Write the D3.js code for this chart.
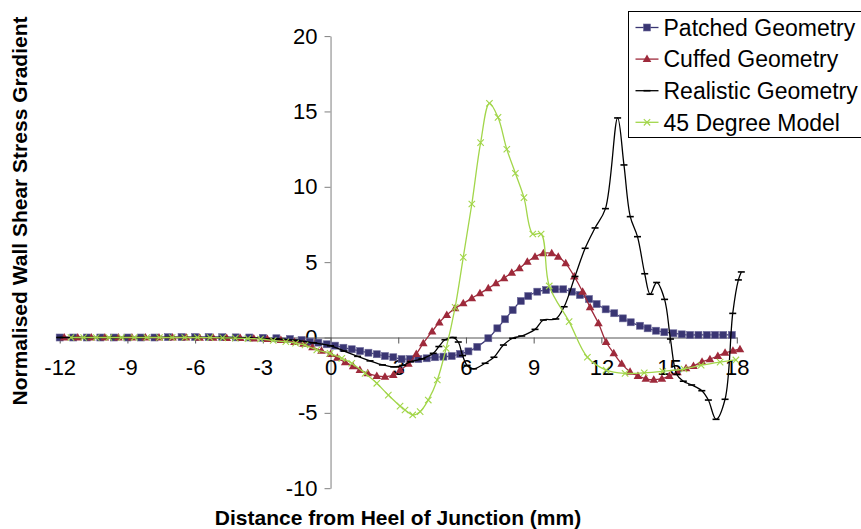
<!DOCTYPE html>
<html lang="en">
<head>
<meta charset="utf-8">
<title>Normalised Wall Shear Stress Gradient</title>
<script src="https://cdn.jsdelivr.net/npm/d3@7"></script>
<style>
  body { margin: 0; background: #fff; }
  text { font-family: "Liberation Sans", Arial, sans-serif; fill: #000; }
  .axis text { font-size: 22px; }
  .label { font-size: 21px; font-weight: bold; }
  .legend_labels { font-size: 23px; }
</style>
</head>
<body>
<script>
// size of the picture
var w = 861, h = 529;

// axis ticks
var xTicks = [-12, -9, -6, -3, 0, 3, 6, 9, 12, 15, 18];
var yTicks = [-10, -5, 0, 5, 10, 15, 20];

var seriesNames = ["Patched Geometry", "Cuffed Geometry", "Realistic Geometry", "45 Degree Model"];

// [distance (mm), normalised WSS gradient]
var patched = [[-12,0],[-11.4,0],[-10.8,0],[-10.2,0],[-9.6,0],[-9.0,0],[-8.4,0],[-7.8,0],[-7.2,0.02],[-6.6,0.03],
  [-6.0,0.03],[-5.4,0.03],[-4.8,0.02],[-4.2,0.01],[-3.6,0],[-3.0,-0.02],[-2.4,-0.05],[-1.8,-0.1],[-1.28,-0.17],
  [-0.91,-0.28],[-0.54,-0.34],[-0.17,-0.45],[0.2,-0.54],[0.57,-0.68],[0.94,-0.78],[1.31,-0.9],[1.68,-1.01],
  [2.05,-1.11],[2.41,-1.23],[2.78,-1.31],[3.15,-1.43],[3.52,-1.43],[3.89,-1.43],[4.26,-1.38],[4.63,-1.31],
  [5.0,-1.27],[5.37,-1.23],[5.74,-1.09],[6.11,-0.92],[6.5,-0.62],[6.99,-0.05],[7.39,0.61],[7.73,1.21],[8.07,1.82],
  [8.43,2.42],[8.76,2.75],[9.16,3.04],[9.55,3.15],[9.95,3.2],[10.31,3.2],[10.69,3.04],[11.05,2.82],[11.45,2.55],
  [11.79,2.22],[12.19,1.87],[12.57,1.61],[12.95,1.27],[13.3,1.01],[13.71,0.78],[14.05,0.61],[14.42,0.45],
  [14.79,0.35],[15.19,0.28],[15.56,0.21],[15.93,0.17],[16.3,0.17],[16.67,0.17],[17.04,0.17],[17.4,0.17],[17.78,0.17]];

var cuffed = [[-11.8,0],[-11.2,0],[-10.6,0],[-10.0,0],[-9.4,0],[-8.8,0],[-8.2,0],[-7.6,0],[-7.0,0],[-6.4,0],
  [-5.8,-0.01],[-5.2,-0.02],[-4.6,-0.03],[-4.0,-0.04],[-3.4,-0.06],[-2.8,-0.1],[-2.2,-0.17],[-1.6,-0.3],[-1.2,-0.42],
  [-0.8,-0.65],[-0.4,-0.88],[0.0,-1.1],[0.3,-1.35],[0.65,-1.65],[1.0,-1.9],[1.3,-2.15],[1.65,-2.38],[2.05,-2.55],
  [2.41,-2.6],[2.78,-2.49],[3.08,-2.16],[3.45,-1.75],[3.8,-1.1],[4.11,-0.38],[4.5,0.4],[4.82,1.0],[5.15,1.49],
  [5.52,1.94],[5.88,2.27],[6.26,2.6],[6.62,2.93],[6.99,3.26],[7.33,3.6],[7.69,3.93],[8.03,4.3],[8.37,4.59],
  [8.72,5.03],[9.06,5.36],[9.43,5.59],[9.8,5.59],[10.09,5.36],[10.42,4.92],[10.8,4.05],[11.17,3.04],[11.5,2.0],
  [11.87,0.94],[12.21,-0.3],[12.55,-1.05],[12.9,-1.75],[13.27,-2.27],[13.62,-2.55],[13.97,-2.74],[14.32,-2.8],
  [14.68,-2.73],[15.01,-2.55],[15.37,-2.3],[15.75,-2.04],[16.08,-1.89],[16.46,-1.61],[16.81,-1.44],[17.16,-1.22],
  [17.48,-1.02],[17.83,-0.88],[18.14,-0.78]];

var realistic = [[-12,0],[-10.8,0],[-9.6,0],[-8.4,0],[-7.2,0.01],[-6.0,0.01],[-4.8,0],[-3.6,-0.03],[-2.4,-0.1],
  [-1.5,-0.2],[-0.75,-0.35],[0,-0.55],[0.6,-0.9],[1.2,-1.25],[1.75,-1.55],[2.3,-1.82],[2.8,-1.95],[3.2,-1.85],
  [3.55,-1.6],[4.05,-1.42],[4.55,-1.05],[4.8,-0.6],[5.07,-0.15],[5.44,0.0],[5.66,-0.3],[5.85,-1.2],[6.05,-1.85],
  [6.33,-2.08],[6.85,-1.71],[7.24,-1.31],[7.66,-0.5],[8.07,-0.05],[8.47,0.1],[9.06,0.54],[9.43,1.16],[9.98,1.23],
  [10.35,2.04],[10.83,4.05],[11.28,5.92],[11.72,7.27],[12.18,8.55],[12.72,14.57],[13.0,11.45],[13.28,8.02],
  [13.6,6.69],[13.92,4.23],[14.16,2.87],[14.45,3.65],[14.8,2.53],[15.06,-0.1],[15.34,-2.45],[15.63,-2.9],
  [16.0,-3.15],[16.45,-3.53],[16.74,-4.15],[17.08,-5.43],[17.48,-4.1],[17.82,1.6],[18.07,3.82],[18.2,4.35]];

var deg45 = [[-11.5,0],[-10.94,0],[-10.38,0],[-9.82,0],[-9.26,0],[-8.7,0],[-8.14,0],[-7.58,0],[-7.02,0],[-6.46,0],
  [-5.9,0],[-5.34,-0.01],[-4.78,-0.02],[-4.22,-0.04],[-3.66,-0.07],[-3.1,-0.1],[-2.54,-0.2],[-1.98,-0.28],
  [-1.55,-0.38],[-1.13,-0.5],[-0.61,-0.83],[-0.02,-1.05],[0.5,-1.38],[0.94,-1.71],[1.53,-2.38],[2.05,-3.04],
  [2.56,-3.82],[3.08,-4.55],[3.3,-4.81],[3.64,-5.14],[3.97,-4.92],[4.33,-4.15],[4.73,-2.82],[5.12,-0.72],
  [5.52,2.0],[5.88,5.32],[6.26,8.86],[6.65,12.93],[7.04,15.54],[7.42,14.61],[7.81,12.49],[8.19,10.9],[8.57,9.28],
  [8.96,6.87],[9.33,6.87],[9.69,3.42],[10.57,1.05],[11.38,-1.31],[12.21,-2.16],[13.05,-2.38],[13.9,-2.34],
  [14.72,-2.24],[15.66,-2.09],[16.42,-1.84],[17.26,-1.63],[17.96,-1.49]];

var colors = {"Patched Geometry": "#3a3673", "Cuffed Geometry": "#9e2a3b",
              "Realistic Geometry": "#000000", "45 Degree Model": "#a2d64a"};
var markers = {"Patched Geometry": "square", "Cuffed Geometry": "triangle",
               "Realistic Geometry": "dash", "45 Degree Model": "cross"};
var seriesData = [patched, cuffed, realistic, deg45];

var xScale = d3.scaleLinear().domain([-12, 18]).range([59.7, 736.8]);
var yScale = d3.scaleLinear().domain([-10, 20]).range([488.2, 36.1]);

var svg = d3.select("body").append("svg")
  .attr("width", w).attr("height", h);

// plain hyphen for negatives, like the original
var fmt = function(d) { return String(d); };

// ---------- axes ----------
var yAxis = d3.axisLeft(yScale).tickValues(yTicks).tickFormat(fmt)
  .tickSize(6).tickSizeOuter(0).tickPadding(7);
var gy = svg.append("g").attr("class", "axis")
  .attr("transform", "translate(" + xScale(0) + ",0)")
  .call(yAxis);
gy.selectAll("path, line").attr("stroke", "#7f7f7f");

var xAxis = d3.axisBottom(xScale).tickValues(xTicks).tickFormat(fmt)
  .tickSize(6).tickSizeOuter(0).tickPadding(16);
var gx = svg.append("g").attr("class", "axis")
  .attr("transform", "translate(0," + yScale(0) + ")")
  .call(xAxis);
gx.selectAll("path, line").attr("stroke", "#555");

svg.selectAll(".axis text").attr("font-family", null).attr("font-size", null);

// axis titles
svg.append("text").attr("class", "label")
  .attr("x", 398).attr("y", 525)
  .attr("text-anchor", "middle")
  .text("Distance from Heel of Junction (mm)");

svg.append("text").attr("class", "label")
  .attr("transform", "translate(27,211) rotate(-90)")
  .attr("text-anchor", "middle")
  .text("Normalised Wall Shear Stress Gradient");

// ---------- series ----------
var line = d3.line()
  .x(function(d) { return xScale(d[0]); })
  .y(function(d) { return yScale(d[1]); })
  .curve(d3.curveCatmullRom.alpha(0.5));

function drawMarker(g, type, color) {
  if (type === "square") {
    g.append("rect").attr("x", -3.5).attr("y", -3.5).attr("width", 7).attr("height", 7)
      .attr("fill", color).attr("stroke", "#6b6899").attr("stroke-width", 0.6);
  } else if (type === "triangle") {
    g.append("path").attr("d", "M0,-4.5L4.3,3L-4.3,3Z").attr("fill", color);
  } else if (type === "dash") {
    g.append("line").attr("x1", -3.5).attr("x2", 3.5).attr("stroke", color).attr("stroke-width", 1.6);
  } else {
    g.append("path").attr("d", "M-3.2,-3.2L3.2,3.2M-3.2,3.2L3.2,-3.2")
      .attr("stroke", color).attr("stroke-width", 1.1).attr("fill", "none");
  }
}

seriesNames.forEach(function(name, i) {
  var data = seriesData[i];
  var g = svg.append("g").attr("class", "series");
  g.append("path")
    .attr("d", line(data))
    .attr("fill", "none")
    .attr("stroke", colors[name])
    .attr("stroke-width", 1.3);
  g.selectAll(".pt").data(data).enter().append("g")
    .attr("class", "pt")
    .attr("transform", function(d) { return "translate(" + xScale(d[0]) + "," + yScale(d[1]) + ")"; })
    .each(function() { drawMarker(d3.select(this), markers[name], colors[name]); });
});

// ---------- legend ----------
var legend_x = 628.5, legend_y = 11.5;
var legend = svg.append("g");
legend.append("rect")
  .attr("x", legend_x).attr("y", legend_y)
  .attr("width", 260).attr("height", 126)
  .attr("fill", "#fff").attr("stroke", "#000").attr("stroke-width", 1);

seriesNames.forEach(function(name, i) {
  var cy = legend_y + 16 + i * 31.6;
  var row = legend.append("g");
  row.append("line").attr("x1", legend_x + 7).attr("x2", legend_x + 30)
    .attr("y1", cy).attr("y2", cy)
    .attr("stroke", colors[name]).attr("stroke-width", 1.3);
  drawMarker(row.append("g").attr("transform", "translate(" + (legend_x + 18.5) + "," + cy + ")"),
    markers[name], colors[name]);
  row.append("text").attr("class", "legend_labels")
    .attr("x", legend_x + 35).attr("y", cy).attr("dy", "0.36em")
    .text(name);
});
</script>
</body>
</html>
